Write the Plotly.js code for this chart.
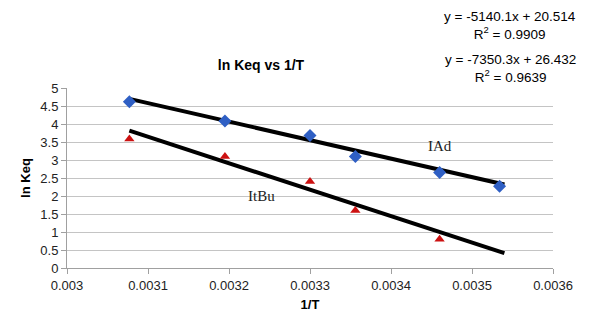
<!DOCTYPE html>
<html><head><meta charset="utf-8">
<script src="https://cdn.plot.ly/plotly-3.0.1.min.js"></script>
<style>html,body{margin:0;padding:0;background:#fff;}#chart{width:600px;height:320px;}</style>
</head><body><div id="chart"></div>
<script>
// Data
const invT = [0.003077, 0.003195, 0.003300, 0.003356, 0.003460, 0.003534];
const lnKeqIAd = [4.62, 4.08, 3.68, 3.10, 2.65, 2.27];
const invTItBu = [0.003077, 0.003195, 0.003300, 0.003356, 0.003460];
const lnKeqItBu = [3.58, 3.10, 2.40, 1.60, 0.80];
// Trendline equations (as printed on the chart)
const fitIAd = {slope: -5140.1, intercept: 20.514, r2: 0.9909};
const fitItBu = {slope: -7350.3, intercept: 26.432, r2: 0.9639};
const fitRange = [0.003077, 0.003540];
const xTicks = [0.003, 0.0031, 0.0032, 0.0033, 0.0034, 0.0035, 0.0036];

const lineY = f => fitRange.map(x => f.slope * x + f.intercept);
const font = 'Liberation Sans, Arial, sans-serif';

const traces = [
  {x: fitRange, y: lineY(fitIAd), mode: 'lines', line: {color: '#000', width: 4}, hoverinfo: 'skip'},
  {x: fitRange, y: lineY(fitItBu), mode: 'lines', line: {color: '#000', width: 4}, hoverinfo: 'skip'},
  {x: invT, y: lnKeqIAd, mode: 'markers', marker: {symbol: 'diamond', size: 10, color: '#2f5fc4'}},
  {x: invTItBu, y: lnKeqItBu, mode: 'markers', marker: {symbol: 'triangle-up', size: 9, color: '#cc1111'}}
];

const eqText = f => 'y = ' + f.slope.toFixed(1) + 'x + ' + f.intercept.toFixed(3) +
  '<br>R<sup>2</sup> = ' + f.r2.toFixed(4);
const layout = {
  width: 600, height: 320,
  margin: {l: 67, r: 47, t: 88, b: 52},
  paper_bgcolor: '#fff', plot_bgcolor: '#fff',
  showlegend: false,
  font: {family: font, size: 13, color: '#222'},
  title: {text: '<b>ln Keq vs 1/T</b>', font: {family: font, size: 14, color: '#000'}, x: 261/600, xanchor: 'center', y: 1 - 65/320, yanchor: 'middle'},
  xaxis: {
    range: [0.003, 0.0036], tickvals: xTicks, tickformat: '.4~f',
    showgrid: false, zeroline: false, showline: true, linecolor: '#a0a0a0', linewidth: 1,
    ticks: 'outside', ticklen: 5, tickcolor: '#a0a0a0',
    tickfont: {family: font, size: 13, color: '#222'},
    title: {text: '<b>1/T</b>', font: {family: font, size: 13, color: '#000'}, standoff: 8}
  },
  yaxis: {
    range: [0, 5], dtick: 0.5,
    showgrid: true, gridcolor: '#c4c4c4', gridwidth: 1, zeroline: false,
    showline: true, linecolor: '#a0a0a0', linewidth: 1,
    ticks: 'outside', ticklen: 5, tickcolor: '#a0a0a0',
    tickfont: {family: font, size: 13, color: '#222'},
    title: {text: '<b>ln Keq</b>', font: {family: font, size: 13, color: '#000'}, standoff: 6}
  },
  annotations: [
    {text: eqText(fitIAd), x: 510, y: 26, showarrow: false, font: {family: font, size: 13.5, color: '#000'}},
    {text: eqText(fitItBu), x: 510, y: 68, showarrow: false, font: {family: font, size: 13.5, color: '#000'}},
    {text: 'IAd', x: 0.00346, y: 3.4, xref: 'x', yref: 'y', showarrow: false, font: {family: 'Liberation Serif, Times New Roman, serif', size: 15, color: '#222'}},
    {text: 'ItBu', x: 0.00324, y: 2.0, xref: 'x', yref: 'y', showarrow: false, font: {family: 'Liberation Serif, Times New Roman, serif', size: 15, color: '#222'}}
  ]
};
// convert the pixel-positioned equation labels to paper coordinates
layout.annotations.slice(0, 2).forEach(a => {
  a.xref = 'paper'; a.yref = 'paper';
  a.x = (a.x - 67) / (600 - 67 - 47);
  a.y = 1 - (a.y - 88) / (320 - 88 - 52);
  a.xanchor = 'center'; a.yanchor = 'middle'; a.align = 'center';
});
Plotly.newPlot('chart', traces, layout, {displayModeBar: false, staticPlot: true});
</script></body></html>
